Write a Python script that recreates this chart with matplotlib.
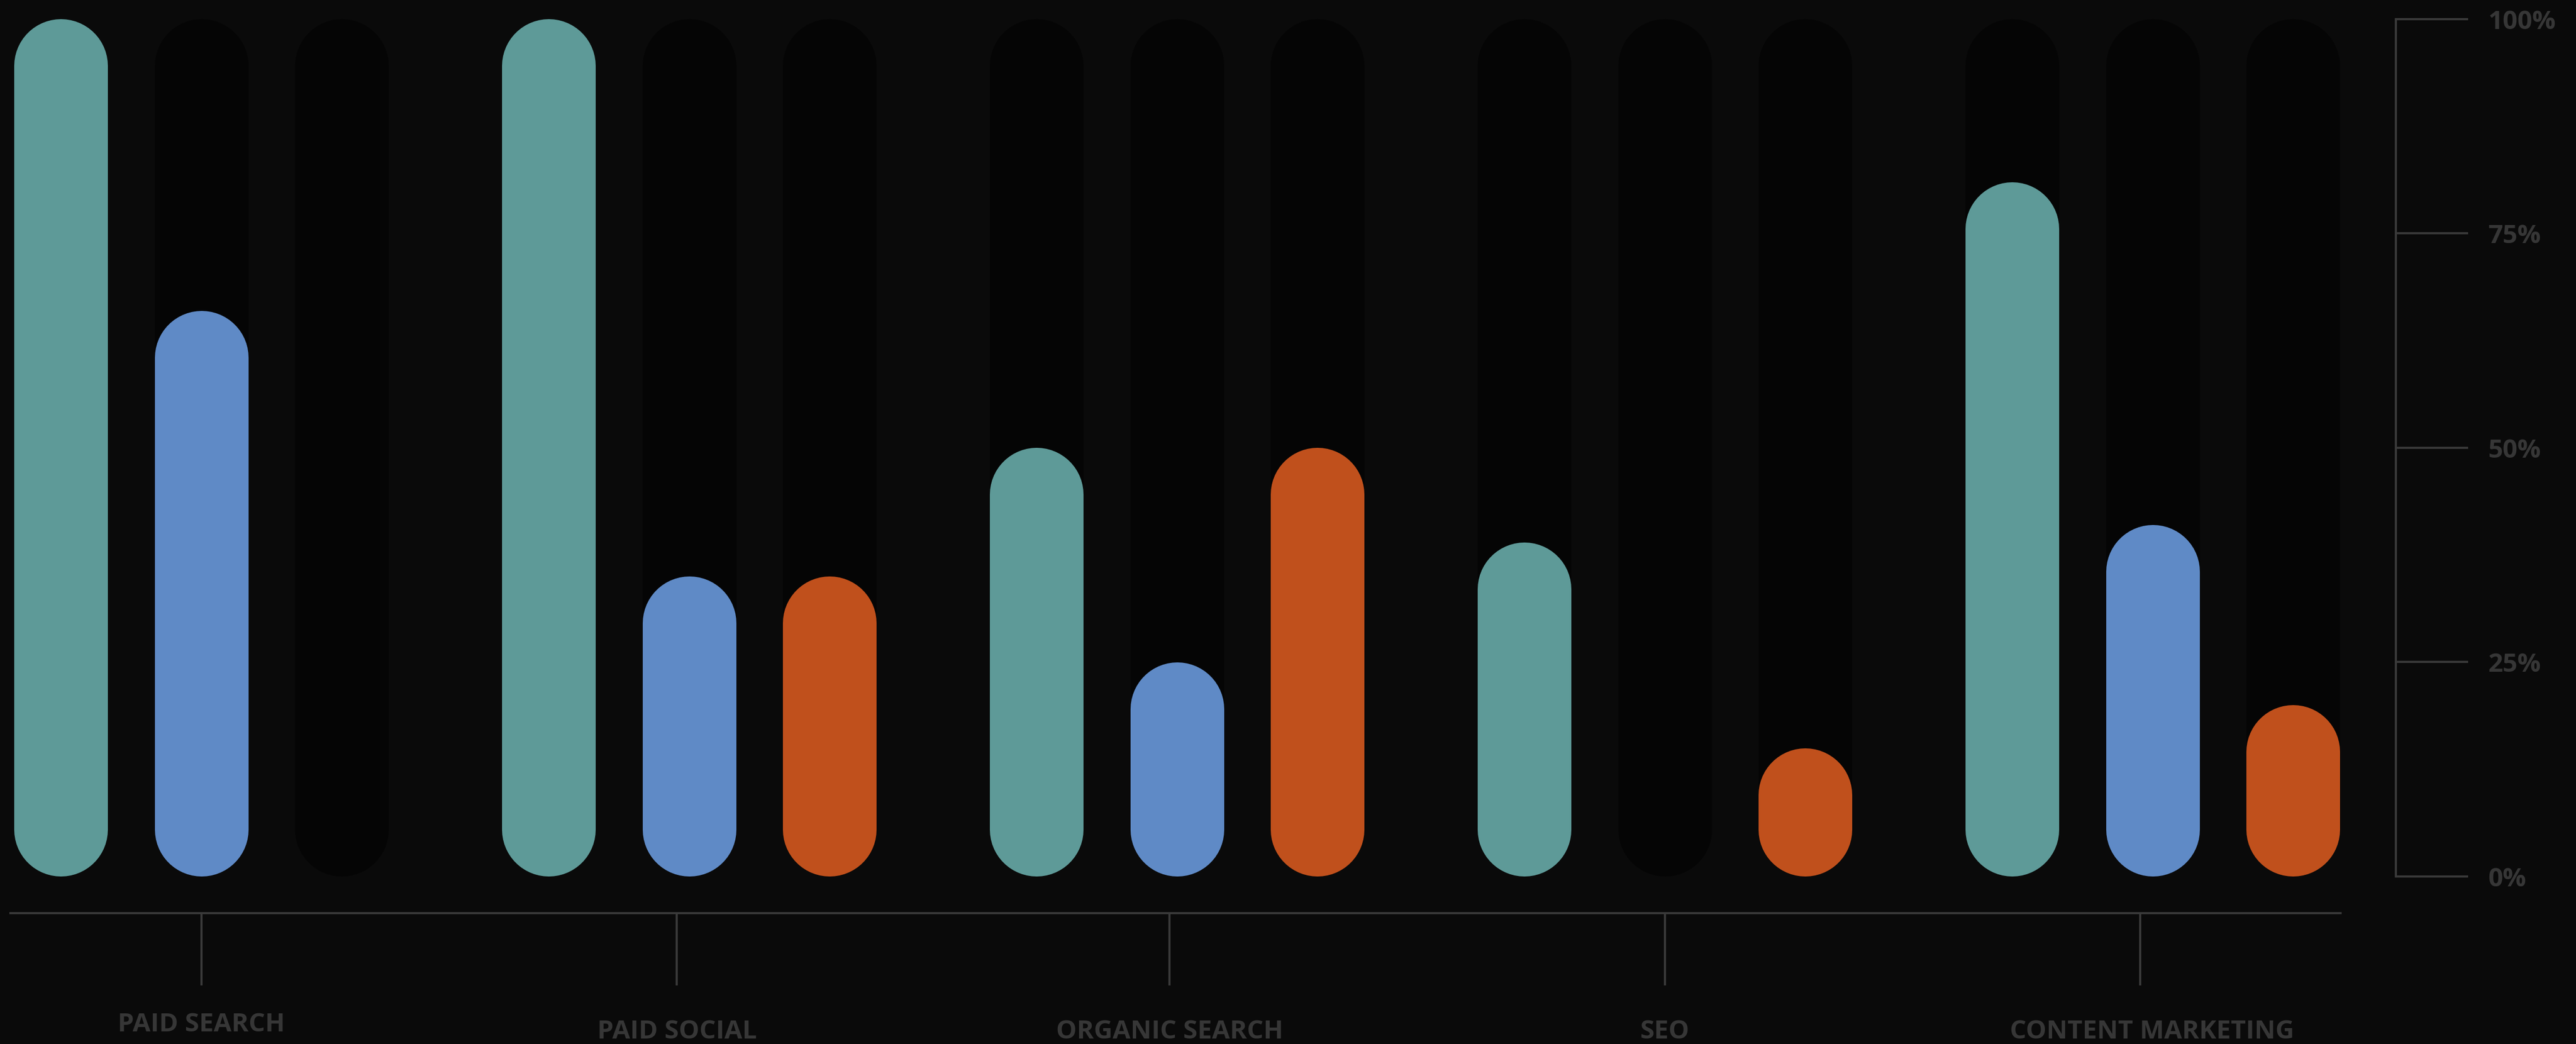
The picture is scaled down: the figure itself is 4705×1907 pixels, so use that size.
import numpy as np
import matplotlib.pyplot as plt
import matplotlib.transforms as mtransforms

plt.rcParams['font.family'] = ['Open Sans', 'DejaVu Sans']
plt.rcParams['font.weight'] = 'bold'

# share of each channel, three series per channel (0 = no bar)
channels = ['PAID SEARCH', 'PAID SOCIAL', 'ORGANIC SEARCH', 'SEO', 'CONTENT MARKETING']
series_teal = [100, 100, 50, 39, 81]
series_blue = [66, 35, 25, 0, 41]
series_orange = [0, 35, 50, 15, 20]
series_colors = ['#5e9a98', '#5f8ac6', '#c0501c']
pct_ticks = [0, 25, 50, 75, 100]
tick_pos = [0.0, 0.975, 1.985, 3.0, 3.975]

W, H, DPI = 4705, 1907, 100
BG = '#0a0a0a'
TRACK = '#050505'
AXIS = '#3a3a3a'
TXT = '#363636'

fig = plt.figure(figsize=(W / DPI, H / DPI), dpi=DPI, facecolor=BG)
ax = fig.add_axes([0, 0, 1, 1], facecolor=BG)
xmin, xmax = -0.4125, 4.868
ymin, ymax = -19.54, 102.23
ax.set_xlim(xmin, xmax)
ax.set_ylim(ymin, ymax)

px_x = W / (xmax - xmin)
px_y = H / (ymax - ymin)
offset = 0.288
bar_w = 0.192
lw = bar_w * px_x * 72 / DPI
cap = bar_w * px_x / 2 / px_y  # round-cap radius in y units

series = [series_teal, series_blue, series_orange]
for i in range(len(channels)):
    for j, vals in enumerate(series):
        x = i + (j - 1) * offset
        # dark full-height track behind every slot
        ax.plot([x, x], [cap, 100 - cap], color=TRACK, lw=lw,
                solid_capstyle='round', zorder=1)
        v = vals[i]
        if v > 0:
            ax.plot([x, x], [cap, v - cap], color=series_colors[j], lw=lw,
                    solid_capstyle='round', zorder=2)

for side in ['top', 'left']:
    ax.spines[side].set_visible(False)
ax.spines['bottom'].set_position(('data', -4.28))
ax.spines['bottom'].set_bounds(-0.391, 4.3855)
ax.spines['right'].set_position(('data', 4.499))
ax.spines['right'].set_bounds(0, 100)
for side in ['bottom', 'right']:
    ax.spines[side].set_color(AXIS)
    ax.spines[side].set_linewidth(2.8)

ax.set_xticks(tick_pos, channels)
ax.tick_params(axis='x', length=95, width=2.8, color=AXIS, direction='out',
               pad=44, labelsize=34, labelcolor=TXT)

ax.yaxis.tick_right()
ax.set_yticks(pct_ticks, [f'{p}%' for p in pct_ticks])
ax.tick_params(axis='y', length=95, width=2.8, color=AXIS, direction='out',
               pad=26, labelsize=34, labelcolor=TXT)

# first label sits a bit higher, last one is centred on its group
labels = ax.get_xticklabels()
labels[0].set_transform(labels[0].get_transform() +
                        mtransforms.ScaledTranslation(0, 0.13, fig.dpi_scale_trans))
labels[-1].set_transform(labels[-1].get_transform() +
                         mtransforms.ScaledTranslation(0.21, 0, fig.dpi_scale_trans))

fig.savefig('out.png', dpi=DPI, facecolor=BG)
